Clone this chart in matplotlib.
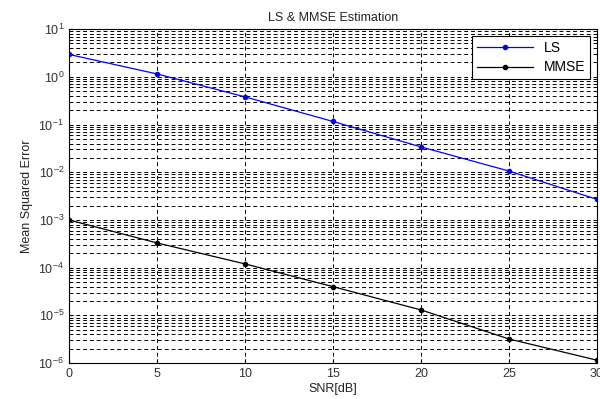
import matplotlib
matplotlib.use("Agg")
import matplotlib.pyplot as plt
from matplotlib.ticker import LogLocator, NullFormatter

plt.rcParams['font.family'] = ['Liberation Sans', 'DejaVu Sans']
plt.rcParams['mathtext.fontset'] = 'custom'
plt.rcParams['mathtext.rm'] = 'Liberation Sans'
plt.rcParams['mathtext.it'] = 'Liberation Sans'

snr_db = [0, 5, 10, 15, 20, 25, 30]
mse_ls = [2.95, 1.15, 0.38, 0.116, 0.034, 0.0106, 0.0027]
mse_mmse = [1.0e-3, 3.3e-4, 1.2e-4, 4.0e-5, 1.3e-5, 3.2e-6, 1.15e-6]
title = "LS & MMSE Estimation"
xlabel = "SNR[dB]"
ylabel = "Mean Squared Error"
legend_labels = ["LS", "MMSE"]

fig = plt.figure(figsize=(6.0, 3.99), dpi=100)
ax = fig.add_axes([0.115, 0.090, 0.880, 0.837])

ax.semilogy(snr_db, mse_ls, color='blue', marker='.', markersize=6, lw=0.9, label=legend_labels[0])
ax.semilogy(snr_db, mse_mmse, color='black', marker='.', markersize=6, lw=0.9, label=legend_labels[1])

ax.set_xlim(0, 30)
ax.set_ylim(1e-6, 10)
ax.set_xticks(snr_db)
ax.yaxis.set_major_locator(LogLocator(base=10, numticks=20))
ax.yaxis.set_minor_locator(LogLocator(base=10, subs=range(2, 10), numticks=100))
ax.yaxis.set_minor_formatter(NullFormatter())

ax.grid(True, which='major', axis='both', color='black', linestyle=(0, (4, 3)), lw=0.7)
ax.grid(True, which='minor', axis='y', color='black', linestyle=(0, (4, 3)), lw=0.7)

ax.tick_params(which='both', direction='in', labelsize=9, length=3, labelcolor='#333333')
ax.tick_params(which='minor', length=2)
for s in ax.spines.values():
    s.set_linewidth(0.8)

ax.set_title(title, fontsize=9, pad=6, color='#222222')
ax.set_xlabel(xlabel, fontsize=9, labelpad=2, color='#222222')
ax.set_ylabel(ylabel, fontsize=9, labelpad=4, color='#222222')

leg = ax.legend(loc='upper right', fontsize=10, fancybox=False, edgecolor='black',
                framealpha=1, borderpad=0.35, handlelength=4.0, labelspacing=0.4)
leg.get_frame().set_linewidth(0.8)

fig.savefig("out.png", dpi=100)
